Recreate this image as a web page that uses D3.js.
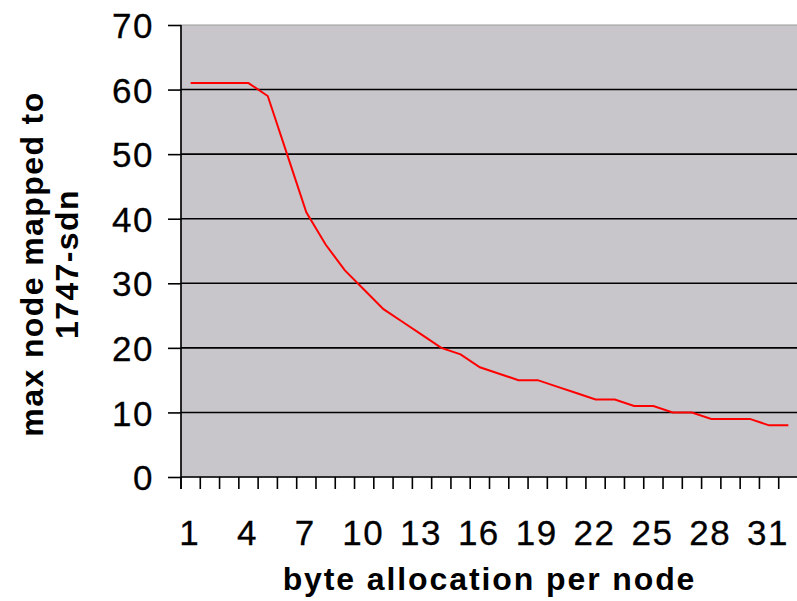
<!DOCTYPE html>
<html>
<head>
<meta charset="utf-8">
<script src="https://d3js.org/d3.v7.min.js"></script>
<style>
    body { margin: 0; background: #ffffff; }
    svg { display: block; }
</style>
</head>
<body>
<div id="chart"></div>
<script>
// byte allocation per node (categories on the x axis)
const categories = [1, 2, 3, 4, 5, 6, 7, 8, 9, 10, 11, 12, 13, 14, 15, 16,
    17, 18, 19, 20, 21, 22, 23, 24, 25, 26, 27, 28, 29, 30, 31, 32]

// max node mapped to 1747-sdn
const maxNode = [61, 61, 61, 61, 59, 50, 41, 36, 32, 29, 26, 24, 22, 20, 19, 17,
    16, 15, 15, 14, 13, 12, 12, 11, 11, 10, 10, 9, 9, 9, 8, 8]

const xLabels = [1, 4, 7, 10, 13, 16, 19, 22, 25, 28, 31]
const yTicks = [0, 10, 20, 30, 40, 50, 60, 70]

const xTitle = "byte allocation per node"
const yTitleLines = ["max node mapped to", "1747-sdn"]

const width = 797
const height = 601
const plot = { left: 181, right: 798, top: 25, bottom: 477 }

const svg = d3.select("#chart")
    .append("svg")
    .attr("width", width)
    .attr("height", height)

const x = d3.scaleBand()
    .domain(categories)
    .range([plot.left, plot.right])
    .padding(0)

const y = d3.scaleLinear()
    .domain([0, 70])
    .range([plot.bottom, plot.top])

// plot area background
svg.append("rect")
    .attr("x", plot.left)
    .attr("y", plot.top)
    .attr("width", plot.right - plot.left)
    .attr("height", plot.bottom - plot.top)
    .attr("fill", "#c8c6ca")
    .attr("stroke", "#9a9a9a")
    .attr("stroke-width", 1)

// horizontal gridlines
svg.append("g")
    .selectAll("line")
    .data(yTicks.filter(d => d > 0 && d < 70))
    .enter().append("line")
    .attr("x1", plot.left)
    .attr("x2", plot.right)
    .attr("y1", d => y(d))
    .attr("y2", d => y(d))
    .attr("stroke", "#000")
    .attr("stroke-width", 1.6)

// y axis (ticks on the left)
const yAxis = svg.append("g")
    .attr("transform", `translate(${plot.left}, 0)`)
    .call(d3.axisLeft(y).tickValues(yTicks).tickSize(13).tickPadding(14).tickSizeOuter(0))
yAxis.select(".domain").attr("stroke", "#000").attr("stroke-width", 1.6)
    .attr("d", `M0,${plot.top}V${plot.bottom + 12}`)
yAxis.selectAll(".tick line").attr("stroke", "#000").attr("stroke-width", 1.6)
yAxis.selectAll(".tick text")
    .attr("font-family", "Liberation Sans, Arial, sans-serif")
    .attr("font-size", 35)
    .attr("letter-spacing", 1.5)
    .attr("stroke", "#000")
    .attr("stroke-width", 0.3)
    .attr("fill", "#000")
    .attr("dy", "0.36em")

// x axis line and tick marks at category boundaries
svg.append("line")
    .attr("x1", plot.left)
    .attr("x2", plot.right)
    .attr("y1", plot.bottom)
    .attr("y2", plot.bottom)
    .attr("stroke", "#000")
    .attr("stroke-width", 1.6)

const bounds = categories.map(c => x(c)).concat([x(categories[categories.length - 1]) + x.bandwidth()])
svg.append("g")
    .selectAll("line")
    .data(bounds)
    .enter().append("line")
    .attr("x1", d => d)
    .attr("x2", d => d)
    .attr("y1", plot.bottom)
    .attr("y2", plot.bottom + 12)
    .attr("stroke", "#000")
    .attr("stroke-width", 1.6)

// x tick labels
const xAxis = svg.append("g")
    .attr("transform", `translate(0, ${plot.bottom})`)
    .call(d3.axisBottom(x).tickValues(xLabels).tickSize(0).tickPadding(43))
xAxis.select(".domain").remove()
xAxis.selectAll(".tick text")
    .attr("font-family", "Liberation Sans, Arial, sans-serif")
    .attr("font-size", 35)
    .attr("letter-spacing", 1.5)
    .attr("stroke", "#000")
    .attr("stroke-width", 0.3)
    .attr("fill", "#000")
    .attr("dx", -1)

// the series
const line = d3.line()
    .x((d, i) => x(categories[i]) + x.bandwidth() / 2)
    .y(d => y(d))

svg.append("path")
    .datum(maxNode)
    .attr("d", line)
    .attr("fill", "none")
    .attr("stroke", "#ff0000")
    .attr("stroke-width", 2)

// axis titles
svg.append("text")
    .attr("x", (plot.left + plot.right) / 2)
    .attr("y", 590)
    .attr("text-anchor", "middle")
    .attr("font-family", "Liberation Sans, Arial, sans-serif")
    .attr("font-weight", "bold")
    .attr("font-size", 32)
    .attr("letter-spacing", 1.9)
    .text(xTitle)

const yTitle = svg.append("text")
    .attr("transform", "translate(0, 264) rotate(-90)")
    .attr("text-anchor", "middle")
    .attr("font-family", "Liberation Sans, Arial, sans-serif")
    .attr("font-weight", "bold")
    .attr("font-size", 32)
    .attr("letter-spacing", 1.4)

yTitle.selectAll("tspan")
    .data(yTitleLines)
    .enter().append("tspan")
    .attr("x", 0)
    .attr("y", (d, i) => 43 + i * 35)
    .text(d => d)
</script>
</body>
</html>
